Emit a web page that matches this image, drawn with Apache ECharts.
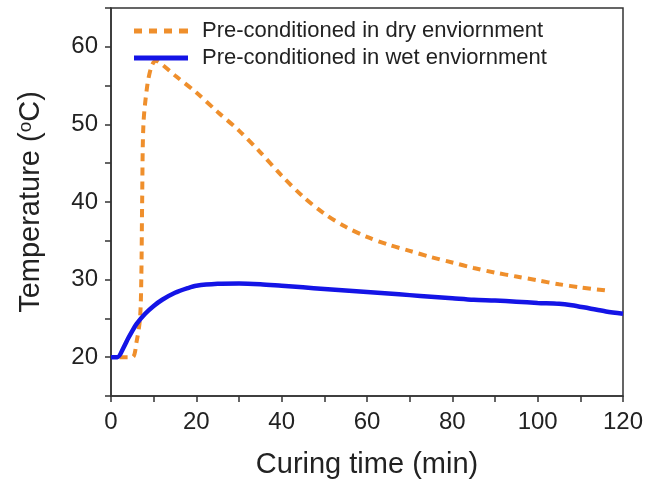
<!DOCTYPE html>
<html>
<head>
<meta charset="utf-8">
<script src="https://cdn.jsdelivr.net/npm/echarts@6/dist/echarts.min.js"></script>
<style>
html,body{margin:0;padding:0;background:#fff;}
#chart{width:647px;height:485px;}
</style>
</head>
<body>
<div id="chart"></div>
<script>
// Pre-conditioned in dry environment: [time (min), temperature (°C)]
const dryTime = [2, 5, 6, 6.8, 7.1, 7.3, 7.6, 8.5, 9.5, 10.5, 12, 15, 20, 25, 30, 35, 40, 45, 50, 55, 60, 65, 70, 75, 80, 85, 90, 95, 100, 105, 110, 116];
const dryTemp = [20, 20, 22, 25, 30, 40, 50, 55, 57.5, 58.2, 57.7, 56.3, 54.1, 51.6, 49.2, 46.4, 43.4, 40.7, 38.5, 36.8, 35.5, 34.5, 33.7, 32.9, 32.2, 31.5, 30.9, 30.4, 29.9, 29.4, 29.0, 28.6];
// Pre-conditioned in wet environment
const wetTime = [0, 1.5, 3, 4, 5, 6, 8, 10, 12, 15, 18, 20, 25, 30, 35, 40, 45, 50, 55, 60, 65, 70, 75, 80, 85, 90, 95, 100, 105, 108, 112, 116, 120];
const wetTemp = [20, 20, 21.3, 22.4, 23.4, 24.3, 25.6, 26.6, 27.4, 28.3, 28.9, 29.2, 29.45, 29.5, 29.4, 29.2, 29.0, 28.8, 28.6, 28.4, 28.2, 28.0, 27.8, 27.6, 27.4, 27.3, 27.15, 27.0, 26.9, 26.7, 26.3, 25.9, 25.6];

const seriesNames = ['Pre-conditioned in dry enviornment', 'Pre-conditioned in wet enviornment'];
const xTitle = 'Curing time (min)';

const pair = (xs, ys) => xs.map((x, i) => [x, ys[i]]);
const font = '"Liberation Sans", Arial, sans-serif';
const axisColor = '#333';
const orange = '#ef8f2c';
const blue = '#1414e6';

const chart = echarts.init(document.getElementById('chart'));
chart.setOption({
  animation: false,
  backgroundColor: '#fff',
  grid: { left: 111, right: 24, top: 8, bottom: 89, show: true, borderColor: axisColor, borderWidth: 1.5 },
  legend: {
    orient: 'vertical', left: 129, top: 15, itemWidth: 54, itemHeight: 5, itemGap: 5,
    textStyle: { fontFamily: font, fontSize: 22, color: '#222', padding: [0, 0, 0, 9] },
    data: [
      { name: seriesNames[0], icon: 'path://M0,0h8v5h-8z M15,0h8v5h-8z M30,0h8v5h-8z M45,0h9v5h-9z', itemStyle: { color: orange } },
      { name: seriesNames[1], icon: 'path://M0,0h54v5h-54z', itemStyle: { color: blue } }
    ]
  },
  xAxis: {
    type: 'value', min: 0, max: 120, interval: 10,
    name: xTitle, nameLocation: 'middle', nameGap: 54,
    nameTextStyle: { fontFamily: font, fontSize: 29, color: '#222' },
    axisLine: { show: true, lineStyle: { color: axisColor, width: 1.5 } },
    axisTick: { show: true, inside: false, length: 6, lineStyle: { color: axisColor, width: 1.5 } },
    axisLabel: { margin: 14, fontFamily: font, fontSize: 24, color: '#222',
      formatter: v => (v % 20 === 0 ? String(v) : '') },
    splitLine: { show: false }
  },
  yAxis: {
    type: 'value', min: 15, max: 65, interval: 5,
    name: 'Temperature ({sup|o}C)', nameLocation: 'middle', nameGap: 66, nameRotate: 90,
    nameTextStyle: { fontFamily: font, fontSize: 29, color: '#222',
      rich: { sup: { fontFamily: font, fontSize: 19, color: '#222', verticalAlign: 'top', padding: [0, 0, 10, 0] } } },
    axisLine: { show: true, lineStyle: { color: axisColor, width: 1.5 } },
    axisTick: { show: true, inside: false, length: 6, lineStyle: { color: axisColor, width: 1.5 } },
    axisLabel: { margin: 13, fontFamily: font, fontSize: 24, color: '#222',
      formatter: v => (v % 10 === 0 ? String(v) : '') },
    splitLine: { show: false }
  },
  series: [
    {
      name: seriesNames[0], type: 'line', data: pair(dryTime, dryTemp),
      symbol: 'none', smooth: 0.3,
      lineStyle: { color: orange, width: 4, type: [8, 6] },
      itemStyle: { color: orange }
    },
    {
      name: seriesNames[1], type: 'line', data: pair(wetTime, wetTemp),
      symbol: 'none', smooth: 0.3,
      lineStyle: { color: blue, width: 4.5 },
      itemStyle: { color: blue }
    }
  ]
});
</script>
</body>
</html>
